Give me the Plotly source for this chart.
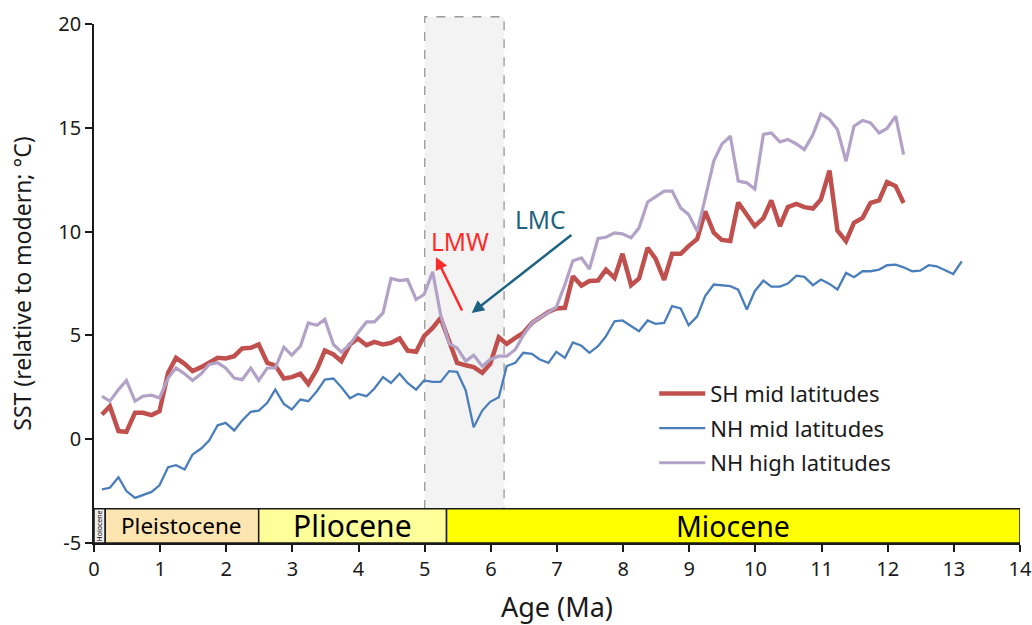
import plotly.graph_objects as go

# ---------------- data ----------------
age = [0.12, 0.24, 0.37, 0.49, 0.62, 0.74, 0.87, 0.99, 1.12, 1.24, 1.37, 1.49, 1.62, 1.74, 1.87, 1.99,
       2.12, 2.24, 2.37, 2.49, 2.62, 2.74, 2.87, 2.99, 3.12, 3.24, 3.37, 3.49, 3.62, 3.74, 3.87, 3.99,
       4.12, 4.24, 4.37, 4.49, 4.62, 4.74, 4.87, 4.99, 5.12, 5.24, 5.37, 5.49, 5.62, 5.74, 5.87, 5.99,
       6.12, 6.24, 6.37, 6.49, 6.62, 6.74, 6.87, 6.99, 7.12, 7.24, 7.37, 7.49, 7.62, 7.74, 7.87, 7.99,
       8.12, 8.24, 8.37, 8.49, 8.62, 8.74, 8.87, 8.99, 9.12, 9.24, 9.37, 9.49, 9.62, 9.74, 9.87, 9.99,
       10.12, 10.24, 10.37, 10.49, 10.62, 10.74, 10.87, 10.99, 11.12, 11.24, 11.37, 11.49, 11.62, 11.74,
       11.87, 11.99, 12.12, 12.24]

sh_mid = [1.19, 1.59, 0.39, 0.35, 1.27, 1.27, 1.16, 1.35, 3.2, 3.92, 3.63, 3.28, 3.47, 3.68, 3.92, 3.89,
          4.0, 4.37, 4.4, 4.56, 3.68, 3.56, 2.92, 2.99, 3.15, 2.66, 3.36, 4.27, 4.08, 3.76, 4.56, 4.85,
          4.53, 4.69, 4.56, 4.64, 4.85, 4.27, 4.21, 4.96, 5.36, 5.84, 4.72, 3.68, 3.56, 3.47, 3.2, 3.63,
          4.91, 4.59, 4.88, 5.12, 5.6, 5.88, 6.13, 6.3, 6.33, 7.85, 7.4, 7.62, 7.64, 8.17, 7.77, 8.93,
          7.42, 7.74, 9.22, 8.7, 7.67, 8.93, 8.93, 9.3, 9.65, 10.98, 9.95, 9.6, 9.55, 11.4, 10.85, 10.26,
          10.65, 11.5, 10.26, 11.18, 11.33, 11.18, 11.11, 11.55, 12.94, 10.05, 9.54, 10.42, 10.66, 11.38,
          11.5, 12.39, 12.19, 11.38]

nh_high = [2.07, 1.83, 2.39, 2.83, 1.83, 2.07, 2.12, 1.99, 2.95, 3.43, 3.15, 2.83, 3.15, 3.6, 3.68, 3.43,
           2.95, 2.87, 3.43, 2.83, 3.43, 3.43, 4.43, 4.05, 4.48, 5.6, 5.49, 5.77, 4.56, 4.2, 4.56, 5.12,
           5.65, 5.65, 6.08, 7.74, 7.64, 7.69, 6.73, 6.97, 8.06, 6.0, 4.6, 4.4, 3.76, 4.05, 3.52, 3.84,
           4.0, 4.0, 4.32, 5.0, 5.6, 5.84, 6.08, 6.36, 7.45, 8.6, 8.73, 8.2, 9.67, 9.73, 9.94, 9.89,
           9.7, 10.18, 11.43, 11.7, 11.95, 11.95, 11.14, 10.82, 10.02, 11.6, 13.4, 14.2, 14.6, 12.43, 12.35, 12.05,
           14.68, 14.75, 14.32, 14.44, 14.22, 13.95, 14.68, 15.67, 15.4, 14.92, 13.39, 15.08, 15.35, 15.24,
           14.75, 14.97, 15.56, 13.71]

age_nh_mid = age + [12.37, 12.49, 12.62, 12.74, 12.87, 12.99, 13.12]

nh_mid = [-2.42, -2.34, -1.83, -2.5, -2.83, -2.7, -2.54, -2.22, -1.35, -1.25, -1.46, -0.74, -0.45, -0.06, 0.67, 0.79,
          0.42, 0.9, 1.32, 1.38, 1.75, 2.39, 1.7, 1.43, 1.91, 1.83, 2.31, 2.87, 2.92, 2.5, 1.97, 2.18,
          2.07, 2.44, 2.99, 2.71, 3.15, 2.71, 2.39, 2.83, 2.76, 2.76, 3.28, 3.24, 2.35, 0.58, 1.38, 1.8,
          2.02, 3.52, 3.68, 4.16, 4.11, 3.84, 3.68, 4.21, 3.92, 4.66, 4.5, 4.16, 4.48, 4.96, 5.68, 5.72,
          5.44, 5.2, 5.72, 5.56, 5.6, 6.41, 6.3, 5.49, 5.92, 6.89, 7.45, 7.42, 7.37, 7.2, 6.25, 7.13,
          7.64, 7.35, 7.35, 7.5, 7.88, 7.82, 7.42, 7.69, 7.48, 7.21, 8.01, 7.8, 8.09, 8.09,
          8.17, 8.38, 8.41, 8.28, 8.09, 8.12, 8.38, 8.33, 8.12, 7.96, 8.57]

epoch_names = ["Holocene", "Pleistocene", "Pliocene", "Miocene"]
epoch_start = [0.0, 0.17, 2.49, 5.33]
epoch_end = [0.17, 2.49, 5.33, 14.0]
epoch_colors = ["#eeeeee", "#fde5b2", "#ffff99", "#ffff00"]
epoch_font_sizes = [7, 22.5, 30, 28.5]

x_ticks = list(range(0, 15))
y_ticks = [-5, 0, 5, 10, 15, 20]
y_tick_labels = ["-5", "0", "5", "10", "15", "20"]

FONT = "Noto Sans"

fig = go.Figure()

fig.add_trace(go.Scatter(x=age, y=sh_mid, mode="lines", name="SH mid latitudes",
                         line=dict(color="#c0504d", width=4.5), legendgroup="a"))
fig.add_trace(go.Scatter(x=age_nh_mid, y=nh_mid, mode="lines", name="NH mid latitudes",
                         line=dict(color="#4a7ebb", width=2.3), legendgroup="b"))
fig.add_trace(go.Scatter(x=age, y=nh_high, mode="lines", name="NH high latitudes",
                         line=dict(color="#b3a2c7", width=3.2), legendgroup="c"))

shapes = []
annotations = []
bar_top = -3.35
y_min, y_max = -5, 20

# Late Miocene window (shaded box)
shapes.append(dict(type="rect", xref="x", yref="paper", x0=5.0, x1=6.2,
                   y0=(bar_top - y_min) / (y_max - y_min), y1=1.014,
                   fillcolor="#f3f3f3", line=dict(color="#999999", width=1.3, dash="dash"),
                   layer="below"))

# epoch bar
for name, s, e, c, fs in zip(epoch_names, epoch_start, epoch_end, epoch_colors, epoch_font_sizes):
    shapes.append(dict(type="rect", xref="x", yref="y", x0=s, x1=e, y0=y_min, y1=bar_top,
                       fillcolor=c, line=dict(color="#1a1a1a", width=1.5), layer="above"))
    annotations.append(dict(x=(s + e) / 2, y=(y_min + bar_top) / 2, xref="x", yref="y",
                            text=name, showarrow=False, textangle=-90 if name == "Holocene" else 0,
                            font=dict(family=FONT, size=fs, color="#000000")))

# arrows
annotations.append(dict(x=5.17, y=8.77, ax=5.575, ay=6.13, xref="x", yref="y", axref="x", ayref="y",
                        text="", showarrow=True, arrowhead=2, arrowsize=1, arrowwidth=2.5,
                        arrowcolor="#ff2a2a"))
annotations.append(dict(x=5.71, y=6.08, ax=7.24, ay=9.89, xref="x", yref="y", axref="x", ayref="y",
                        text="", showarrow=True, arrowhead=2, arrowsize=1, arrowwidth=2.5,
                        arrowcolor="#1f6382"))
annotations.append(dict(x=5.53, y=9.5, xref="x", yref="y", text="LMW", showarrow=False,
                        font=dict(family=FONT, size=24.5, color="#ff2a2a")))
annotations.append(dict(x=6.75, y=10.6, xref="x", yref="y", text="LMC", showarrow=False,
                        font=dict(family=FONT, size=24.5, color="#1f6382")))

fig.update_layout(
    width=1032, height=625,
    margin=dict(l=94, r=12, t=24, b=82),
    paper_bgcolor="white", plot_bgcolor="white",
    font=dict(family=FONT, size=18, color="#1a1a1a"),
    shapes=shapes, annotations=annotations,
    showlegend=True,
    legend=dict(x=0.605, y=0.328, xanchor="left", yanchor="top",
                font=dict(family=FONT, size=22, color="#1a1a1a"),
                bgcolor="rgba(0,0,0,0)", tracegroupgap=3, itemwidth=46),
    xaxis=dict(range=[0, 14], tickvals=x_ticks, showgrid=False, zeroline=False, automargin=False,
               showline=True, linecolor="#1a1a1a", linewidth=1.5,
               ticks="outside", ticklen=7, tickwidth=1.5, tickcolor="#1a1a1a",
               tickfont=dict(family=FONT, size=20),
               title=dict(text="Age (Ma)", font=dict(family=FONT, size=27), standoff=18)),
    yaxis=dict(range=[y_min, y_max], tickvals=y_ticks, ticktext=y_tick_labels,
               showgrid=False, zeroline=False, automargin=False,
               showline=True, linecolor="#1a1a1a", linewidth=1.5,
               ticks="outside", ticklen=7, tickwidth=1.5, tickcolor="#1a1a1a",
               tickfont=dict(family=FONT, size=20),
               title=dict(text="SST (relative to modern; °C)", font=dict(family=FONT, size=23), standoff=20)),
)

fig.write_html("out.html")
